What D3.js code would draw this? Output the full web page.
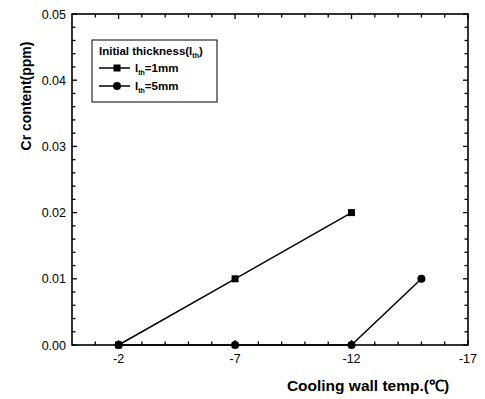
<!DOCTYPE html>
<html>
<head>
<meta charset="utf-8">
<script src="https://d3js.org/d3.v7.min.js"></script>
<style>
  html, body { margin: 0; padding: 0; background: #fff; }
  svg { display: block; }
  text { font-family: Arial, "Liberation Sans", sans-serif; fill: #000; }
</style>
</head>
<body>
<svg id="chart" width="485" height="399"></svg>
<script>
// Cooling wall temperature (°C) and measured Cr content (ppm)
const temps1mm = [-2, -7, -12];
const cr1mm = [0.00, 0.01, 0.02];
const temps5mm = [-2, -7, -12, -15];
const cr5mm = [0.00, 0.00, 0.00, 0.01];

const xMajorTicks = [-2, -7, -12, -17];
const yMajorTicks = [0.00, 0.01, 0.02, 0.03, 0.04, 0.05];

const svg = d3.select("#chart");
const margin = { left: 72, top: 14, right: 17, bottom: 54 };
const W = 485, H = 399;
const x0 = margin.left, x1 = W - margin.right;
const y0 = margin.top, y1 = H - margin.bottom;

const x = d3.scaleLinear().domain([0, -17]).range([x0, x1]);
const y = d3.scaleLinear().domain([0, 0.05]).range([y1, y0]);

const xMinor = d3.range(-1, -17, -1).filter(v => !xMajorTicks.includes(v));
const yMinor = d3.range(1, 25).map(i => i * 0.002).filter(v => Math.abs(v * 100 - Math.round(v * 100)) > 1e-6);

const g = svg.append("g");

// frame ticks (inward on all four sides)
function ticks(sel, vals, len, side) {
  vals.forEach(v => {
    if (side === "bottom") sel.append("line").attr("x1", x(v)).attr("x2", x(v)).attr("y1", y1).attr("y2", y1 - len);
    if (side === "top") sel.append("line").attr("x1", x(v)).attr("x2", x(v)).attr("y1", y0).attr("y2", y0 + len);
    if (side === "left") sel.append("line").attr("y1", y(v)).attr("y2", y(v)).attr("x1", x0).attr("x2", x0 + len);
    if (side === "right") sel.append("line").attr("y1", y(v)).attr("y2", y(v)).attr("x1", x1).attr("x2", x1 - len);
  });
}
const tg = g.append("g").attr("stroke", "#000").attr("stroke-width", 1.3);
ticks(tg, xMajorTicks, 5, "bottom");
ticks(tg, xMinor, 3.5, "bottom");
ticks(tg, xMajorTicks, 5, "top");
ticks(tg, xMinor, 3.5, "top");
ticks(tg, yMajorTicks, 5, "left");
ticks(tg, yMinor, 3.5, "left");
ticks(tg, yMajorTicks, 5, "right");
ticks(tg, yMinor, 3.5, "right");

// frame
g.append("rect")
  .attr("x", x0).attr("y", y0)
  .attr("width", x1 - x0).attr("height", y1 - y0)
  .attr("fill", "none").attr("stroke", "#000").attr("stroke-width", 1.6);

// tick labels
g.selectAll(".xl").data(xMajorTicks).enter().append("text")
  .attr("x", d => x(d)).attr("y", y1 + 18)
  .attr("text-anchor", "middle").attr("font-size", 12.5)
  .text(d => d);
g.selectAll(".yl").data(yMajorTicks).enter().append("text")
  .attr("x", x0 - 6).attr("y", d => y(d) + 4.5)
  .attr("text-anchor", "end").attr("font-size", 12.5)
  .text(d => d.toFixed(2));

// axis titles
g.append("text")
  .attr("x", 368).attr("y", 391)
  .attr("text-anchor", "middle").attr("font-size", 15.5).attr("font-weight", "bold")
  .text("Cooling wall temp.(\u2103)");
g.append("text")
  .attr("transform", "translate(31,96) rotate(-90)")
  .attr("text-anchor", "middle").attr("font-size", 14).attr("font-weight", "bold")
  .text("Cr content(ppm)");

// series
const line = d3.line().x(d => x(d[0])).y(d => y(d[1]));
const s1 = temps1mm.map((t, i) => [t, cr1mm[i]]);
const s5 = temps5mm.map((t, i) => [t, cr5mm[i]]);

g.append("path").datum(s1).attr("d", line).attr("fill", "none").attr("stroke", "#000").attr("stroke-width", 1.5);
g.append("path").datum(s5).attr("d", line).attr("fill", "none").attr("stroke", "#000").attr("stroke-width", 1.5);

g.selectAll(".sq").data(s1).enter().append("rect")
  .attr("x", d => x(d[0]) - 3.5).attr("y", d => y(d[1]) - 3.5)
  .attr("width", 7).attr("height", 7).attr("fill", "#000");
g.selectAll(".ci").data(s5).enter().append("circle")
  .attr("cx", d => x(d[0])).attr("cy", d => y(d[1])).attr("r", 4).attr("fill", "#000");

// legend
const lg = g.append("g");
lg.append("rect").attr("x", 92).attr("y", 40).attr("width", 125).attr("height", 62)
  .attr("fill", "#fff").attr("stroke", "#000").attr("stroke-width", 1);
const title = lg.append("text").attr("x", 99).attr("y", 55)
  .attr("font-size", 11.5).attr("font-weight", "bold");
title.append("tspan").text("Initial thickness(l");
title.append("tspan").attr("font-size", 7).attr("dy", 3).text("th");
title.append("tspan").attr("dy", -3).text(")");

const labels = ["=1mm", "=5mm"];
labels.forEach((lab, i) => {
  const yy = 68 + i * 18;
  lg.append("line").attr("x1", 99).attr("x2", 130).attr("y1", yy).attr("y2", yy)
    .attr("stroke", "#000").attr("stroke-width", 1.5);
  if (i === 0) {
    lg.append("rect").attr("x", 117 - 3.5).attr("y", yy - 3.5).attr("width", 7).attr("height", 7).attr("fill", "#000");
  } else {
    lg.append("circle").attr("cx", 117).attr("cy", yy).attr("r", 4).attr("fill", "#000");
  }
  const t = lg.append("text").attr("x", 135).attr("y", yy + 4)
    .attr("font-size", 11.5).attr("font-weight", "bold");
  t.append("tspan").text("l");
  t.append("tspan").attr("font-size", 7).attr("dy", 3).text("th");
  t.append("tspan").attr("dy", -3).text(lab);
});
</script>
</body>
</html>
